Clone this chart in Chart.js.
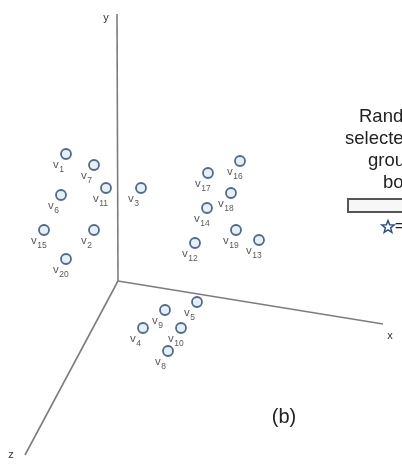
<!DOCTYPE html>
<html>
<head>
<meta charset="utf-8">
<script src="https://cdn.jsdelivr.net/npm/chart.js@4.4.1/dist/chart.umd.min.js"></script>
<style>
html,body{margin:0;padding:0;background:#fff;overflow:hidden;}
canvas{display:block;}
</style>
</head>
<body>
<canvas id="c" width="402" height="466"></canvas>
<script>
// ---- data (projected positions) ----
const vertexIds = [1,2,3,4,5,6,7,8,9,10,11,12,13,14,15,16,17,18,19,20];
const vertexX   = [66,94,141,143,197,61,94,168,165,181,106,195,259,207,44,240,208,231,236,66];
const vertexY   = [154,230,188,328,302,195,165,351,310,328,188,243,240,208,230,161,173,193,230,259];

const axisNames = ['y','x','z'];
const axisOrigin = {x:118, y:281};
const axisEndX = [117, 383, 25];
const axisEndY = [14, 324, 455];

const legendLines = ['Random','selected','group','box'];
const panelTag = '(b)';

// ---- build datasets ----
const pts = vertexIds.map((id,i)=>({x:vertexX[i], y:vertexY[i], id:id}));
const axisSets = axisNames.map((n,i)=>({
  label:'axis-'+n,
  type:'line',
  data:[{x:axisOrigin.x,y:axisOrigin.y},{x:axisEndX[i],y:axisEndY[i]}],
  showLine:true,
  borderColor:'#7d7d7d',
  borderWidth:1.6,
  pointRadius:0,
  fill:false,
  tension:0
}));

const annot = {
  id:'annot',
  afterDatasetsDraw(chart){
    const ctx = chart.ctx;
    const xs = chart.scales.x, ys = chart.scales.y;
    const px = v=>xs.getPixelForValue(v), py = v=>ys.getPixelForValue(v);
    ctx.save();
    // vertex labels
    const meta = chart.getDatasetMeta(0);
    meta.data.forEach((el,i)=>{
      const x = el.x - 13, y = el.y + 14;
      ctx.fillStyle = '#5a5a5a';
      ctx.textBaseline = 'alphabetic';
      ctx.textAlign = 'left';
      ctx.font = '11.5px "Liberation Sans", Arial, sans-serif';
      ctx.fillText('v', x, y);
      const w = ctx.measureText('v').width;
      ctx.font = '8.5px "Liberation Sans", Arial, sans-serif';
      ctx.fillText(String(vertexIds[i]), x + w + 0.5, y + 3.5);
    });
    // axis names
    ctx.fillStyle = '#333';
    ctx.font = '11px "Liberation Sans", Arial, sans-serif';
    ctx.textAlign = 'center';
    ctx.textBaseline = 'middle';
    const axisLabelPos = [[106,18],[390,336],[11,455]];
    axisNames.forEach((n,i)=>ctx.fillText(n, px(axisLabelPos[i][0]), py(axisLabelPos[i][1])));
    // legend text (clipped at right edge)
    ctx.fillStyle = '#222';
    ctx.font = '18.5px "Liberation Sans", Arial, sans-serif';
    ctx.textAlign = 'left';
    ctx.textBaseline = 'alphabetic';
    const legLeft = [359,345,368,383];
    const legBase = [122,144,166,188];
    legendLines.forEach((t,i)=>ctx.fillText(t, px(legLeft[i]), py(legBase[i])));
    // legend box
    ctx.strokeStyle = '#555';
    ctx.lineWidth = 2;
    ctx.fillStyle = '#f7f7f7';
    ctx.beginPath();
    ctx.rect(px(348), py(199), 70, 13);
    ctx.fill(); ctx.stroke();
    // star
    const sx = px(388), sy = py(227), R = 6.5, r = 2.8;
    ctx.beginPath();
    for(let k=0;k<10;k++){
      const a = -Math.PI/2 + k*Math.PI/5;
      const rr = k%2===0 ? R : r;
      const xx = sx + rr*Math.cos(a), yy = sy + rr*Math.sin(a);
      k===0 ? ctx.moveTo(xx,yy) : ctx.lineTo(xx,yy);
    }
    ctx.closePath();
    ctx.strokeStyle = '#2f4f8f';
    ctx.lineWidth = 1.5;
    ctx.stroke();
    ctx.fillStyle = '#222';
    ctx.font = '14px "Liberation Sans", Arial, sans-serif';
    ctx.textBaseline = 'middle';
    ctx.fillText('=', px(395), py(227));
    // panel tag
    ctx.fillStyle = '#222';
    ctx.font = '20px "Liberation Sans", Arial, sans-serif';
    ctx.textAlign = 'center';
    ctx.textBaseline = 'middle';
    ctx.fillText(panelTag, px(284), py(417));
    ctx.restore();
  }
};

new Chart(document.getElementById('c'), {
  type:'scatter',
  data:{
    datasets:[{
      label:'vertices',
      data:pts,
      pointRadius:5,
      pointHoverRadius:5,
      pointBorderWidth:1.8,
      pointBorderColor:'#4f6b8c',
      pointBackgroundColor:'#e6eef6'
    }, ...axisSets]
  },
  options:{
    responsive:false,
    devicePixelRatio:1,
    animation:false,
    layout:{padding:0, autoPadding:false},
    plugins:{legend:{display:false}, tooltip:{enabled:false}},
    events:[],
    scales:{
      x:{type:'linear', min:0, max:402, display:false},
      y:{type:'linear', min:0, max:466, reverse:true, display:false}
    }
  },
  plugins:[annot]
});
</script>
</body>
</html>
